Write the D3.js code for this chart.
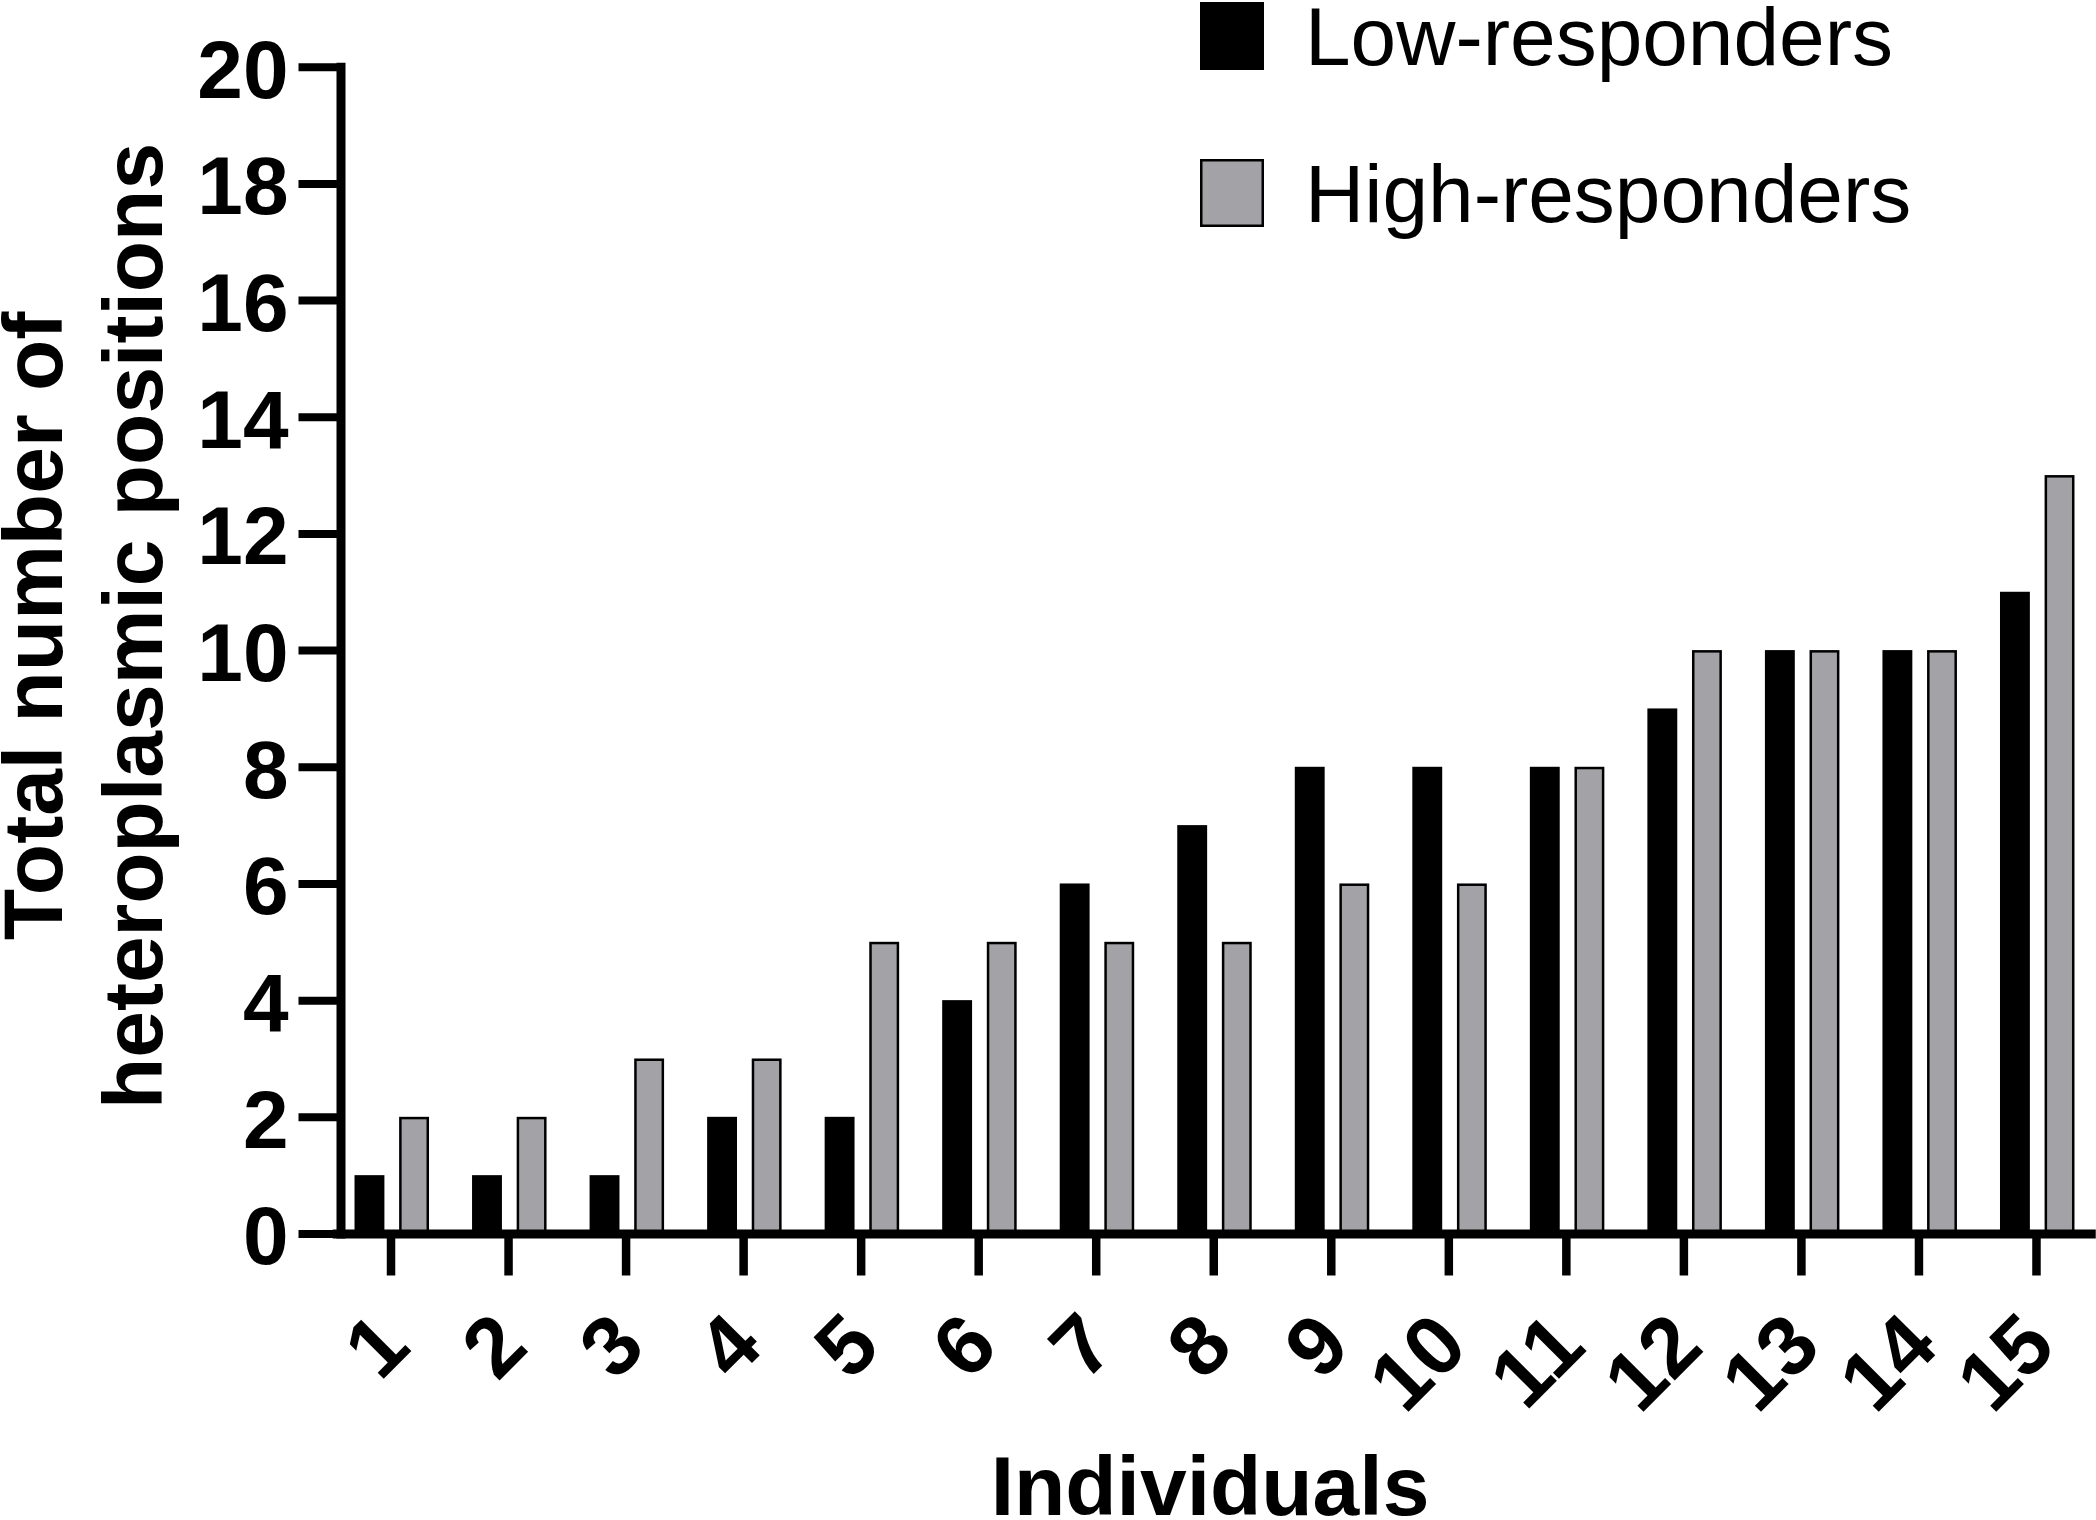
<!DOCTYPE html>
<html>
<head>
<meta charset="utf-8">
<script src="https://cdn.jsdelivr.net/npm/d3@7/dist/d3.min.js"></script>
<style>
  html, body { margin: 0; padding: 0; background: #fff; }
  svg { display: block; }
  text { font-family: "Liberation Sans", Arial, Helvetica, sans-serif; fill: #000; }
</style>
</head>
<body>
<svg id="chart" width="2096" height="1520"></svg>
<script>
// ---- data ----
const categories = ["1","2","3","4","5","6","7","8","9","10","11","12","13","14","15"];
const seriesNames = ["Low-responders", "High-responders"];
const lowValues  = [1, 1, 1, 2, 2, 4, 6, 7, 8, 8, 8, 9, 10, 10, 11];
const highValues = [2, 2, 3, 3, 5, 5, 5, 5, 6, 6, 8, 10, 10, 10, 13];
const yTickValues = [0, 2, 4, 6, 8, 10, 12, 14, 16, 18, 20];
const yTitleLines = ["Total number of", "heteroplasmic positions"];
const xTitle = "Individuals";

// ---- layout ----
const svg = d3.select("#chart");
const axisX = 340.5;      // y axis line position
const axisY = 1233.5;     // x axis line position
const colors = { "Low-responders": "#000000", "High-responders": "#a3a2a7" };

const x = d3.scaleBand().domain(categories).range([332.25, 2095.25]).paddingInner(0).paddingOuter(0);
const xSub = d3.scaleBand().domain(seriesNames).range([-36.5, 38]).paddingInner(0.33);
const y = d3.scaleLinear().domain([0, 20]).range([axisY, 66.7]);

const rows = categories.map((c, i) => ({ cat: c, vals: [
  { name: seriesNames[0], v: lowValues[i] },
  { name: seriesNames[1], v: highValues[i] }
]}));

// ---- bars ----
const groups = svg.append("g").selectAll("g").data(rows).join("g")
  .attr("transform", d => `translate(${x(d.cat) + x.bandwidth() / 2},0)`);

const sw = 2.5;
groups.selectAll("rect").data(d => d.vals).join("rect")
  .attr("x", d => xSub(d.name) + (d.name === seriesNames[1] ? sw / 2 : 0))
  .attr("width", d => xSub.bandwidth() - (d.name === seriesNames[1] ? sw : 0))
  .attr("y", d => y(d.v) + (d.name === seriesNames[1] ? sw / 2 : 0))
  .attr("height", d => y(0) - y(d.v))
  .attr("fill", d => colors[d.name])
  .attr("stroke", d => d.name === seriesNames[1] ? "#000" : "none")
  .attr("stroke-width", sw);

// ---- y axis ----
const yAxis = svg.append("g")
  .attr("transform", `translate(${axisX},0)`)
  .call(d3.axisLeft(y).tickValues(yTickValues).tickSize(42).tickSizeOuter(0).tickPadding(10).tickFormat(d3.format("d")));
yAxis.select(".domain").attr("stroke", "#000").attr("stroke-width", 9).attr("stroke-linecap", "square");
yAxis.selectAll(".tick line").attr("stroke", "#000").attr("stroke-width", 8);
yAxis.selectAll(".tick text")
  .attr("font-size", 82).attr("font-weight", "bold")
  .attr("dy", "0.37em").attr("fill", "#000");

// ---- x axis ----
const xAxis = svg.append("g")
  .attr("transform", `translate(0,${axisY})`)
  .call(d3.axisBottom(x).tickSize(42).tickSizeOuter(0));
xAxis.select(".domain").attr("stroke", "#000").attr("stroke-width", 9);
xAxis.selectAll(".tick line").attr("stroke", "#000").attr("stroke-width", 8.5);
xAxis.selectAll(".tick text")
  .attr("font-size", 84).attr("font-weight", "bold")
  .attr("y", 0).attr("dy", 0)
  .attr("text-anchor", "end")
  .attr("transform", "translate(22,116) rotate(-45)")
  .attr("fill", "#000");

// ---- axis titles ----
const yTitleX = [62, 162];
yTitleLines.forEach((t, i) => {
  svg.append("text")
    .attr("transform", `translate(${yTitleX[i]},626) rotate(-90)`)
    .attr("text-anchor", "middle")
    .attr("font-size", 84).attr("font-weight", "bold")
    .text(t);
});

svg.append("text")
  .attr("x", 1210).attr("y", 1515)
  .attr("text-anchor", "middle")
  .attr("font-size", 84).attr("font-weight", "bold")
  .text(xTitle);

// ---- legend ----
const legendY = [2, 159];
const legend = svg.append("g").selectAll("g").data(seriesNames).join("g")
  .attr("transform", (d, i) => `translate(1200,${legendY[i]})`);
legend.append("rect")
  .attr("x", (d, i) => i === 1 ? sw / 2 : 0)
  .attr("y", (d, i) => i === 1 ? sw / 2 : 0)
  .attr("width", (d, i) => 64 - (i === 1 ? sw : 0))
  .attr("height", (d, i) => 68 - (i === 1 ? sw : 0))
  .attr("fill", d => colors[d])
  .attr("stroke", (d, i) => i === 1 ? "#000" : "none")
  .attr("stroke-width", sw);
legend.append("text")
  .attr("x", 105).attr("y", 63)
  .attr("font-size", 82)
  .text(d => d);
</script>
</body>
</html>
